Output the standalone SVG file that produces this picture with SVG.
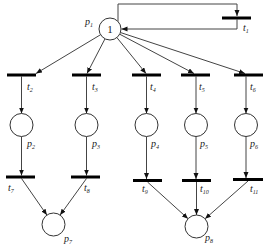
<svg xmlns="http://www.w3.org/2000/svg" width="271" height="245" viewBox="0 0 271 245">
<style>
.pl{fill:#fff;stroke:#333;stroke-width:1}
.tr{stroke:#000;stroke-width:3}
.ln{fill:none;stroke:#444;stroke-width:1}
.lb{font-family:"Liberation Serif",serif;font-style:italic;font-size:10px;fill:#222}
.sb{font-size:6px}
.tok{font-family:"Liberation Serif",serif;font-size:11px;fill:#222}
</style>
<defs>
<marker id="ar" markerUnits="userSpaceOnUse" markerWidth="7" markerHeight="6" refX="6" refY="2.5" orient="auto">
<path d="M0,0 L6,2.5 L0,5 z" fill="#111"/>
</marker>
</defs>
<rect width="271" height="245" fill="#fff"/>
<g id="connectors">
<path class="ln" d="M118,21.5 V4 H237 V16" marker-end="url(#ar)"/>
<path class="ln" d="M237,19.5 V29 H121.5" marker-end="url(#ar)"/>
<line class="ln" x1="100.6" y1="34.7" x2="36" y2="73.5" marker-end="url(#ar)"/>
<line class="ln" x1="105" y1="38.8" x2="87" y2="73.5" marker-end="url(#ar)"/>
<line class="ln" x1="116.9" y1="37.6" x2="146" y2="73.5" marker-end="url(#ar)"/>
<line class="ln" x1="119.7" y1="34.2" x2="194" y2="73.5" marker-end="url(#ar)"/>
<line class="ln" x1="120.4" y1="32.5" x2="245" y2="73.5" marker-end="url(#ar)"/>
<line class="ln" x1="21.5" y1="76.5" x2="21.5" y2="113.5" marker-end="url(#ar)"/>
<line class="ln" x1="86.5" y1="76.5" x2="86.5" y2="113.5" marker-end="url(#ar)"/>
<line class="ln" x1="146.5" y1="76.5" x2="146.5" y2="113.5" marker-end="url(#ar)"/>
<line class="ln" x1="196" y1="76.5" x2="196" y2="113.5" marker-end="url(#ar)"/>
<line class="ln" x1="246" y1="76.5" x2="246" y2="113.5" marker-end="url(#ar)"/>
<line class="ln" x1="21.5" y1="136.5" x2="21.5" y2="175.5" marker-end="url(#ar)"/>
<line class="ln" x1="86.5" y1="136.5" x2="86.5" y2="175.5" marker-end="url(#ar)"/>
<line class="ln" x1="146.5" y1="136.5" x2="146.5" y2="179" marker-end="url(#ar)"/>
<line class="ln" x1="196" y1="136.5" x2="196" y2="179" marker-end="url(#ar)"/>
<line class="ln" x1="246" y1="136.5" x2="246" y2="178" marker-end="url(#ar)"/>
<line class="ln" x1="21.5" y1="178.5" x2="46.9" y2="215.1" marker-end="url(#ar)"/>
<line class="ln" x1="86.5" y1="178.5" x2="60.1" y2="215.1" marker-end="url(#ar)"/>
<line class="ln" x1="147.5" y1="182" x2="188" y2="218.7" marker-end="url(#ar)"/>
<line class="ln" x1="196.5" y1="182" x2="196.5" y2="215" marker-end="url(#ar)"/>
<line class="ln" x1="248" y1="181" x2="205.1" y2="218.8" marker-end="url(#ar)"/>
</g>
<g id="p1"><circle class="pl" cx="110" cy="29" r="11"/><text class="tok" x="110" y="33" text-anchor="middle">1</text><text class="lb" x="85" y="25">p<tspan class="sb" dy="2">1</tspan></text></g>
<g id="t1"><line class="tr" x1="222" y1="18" x2="251" y2="18"/><text class="lb" x="243" y="31">t<tspan class="sb" dy="2">1</tspan></text></g>
<g id="t2"><line class="tr" x1="7" y1="75" x2="36" y2="75"/><text class="lb" x="27" y="90">t<tspan class="sb" dy="2">2</tspan></text></g>
<g id="t3"><line class="tr" x1="72" y1="75" x2="101" y2="75"/><text class="lb" x="92" y="90">t<tspan class="sb" dy="2">3</tspan></text></g>
<g id="t4"><line class="tr" x1="132" y1="75" x2="161" y2="75"/><text class="lb" x="150" y="90">t<tspan class="sb" dy="2">4</tspan></text></g>
<g id="t5"><line class="tr" x1="181" y1="75" x2="210" y2="75"/><text class="lb" x="199" y="90">t<tspan class="sb" dy="2">5</tspan></text></g>
<g id="t6"><line class="tr" x1="234" y1="75" x2="263" y2="75"/><text class="lb" x="250" y="90">t<tspan class="sb" dy="2">6</tspan></text></g>
<g id="p2"><circle class="pl" cx="21.5" cy="125" r="11.5"/><text class="lb" x="27" y="147">p<tspan class="sb" dy="2">2</tspan></text></g>
<g id="p3"><circle class="pl" cx="86.5" cy="125" r="11.5"/><text class="lb" x="92" y="147">p<tspan class="sb" dy="2">3</tspan></text></g>
<g id="p4"><circle class="pl" cx="146.5" cy="125" r="11.5"/><text class="lb" x="151" y="147">p<tspan class="sb" dy="2">4</tspan></text></g>
<g id="p5"><circle class="pl" cx="196" cy="125" r="11.5"/><text class="lb" x="200" y="147">p<tspan class="sb" dy="2">5</tspan></text></g>
<g id="p6"><circle class="pl" cx="246" cy="125" r="11.5"/><text class="lb" x="250" y="147">p<tspan class="sb" dy="2">6</tspan></text></g>
<g id="t7"><line class="tr" x1="6" y1="177" x2="35" y2="177"/><text class="lb" x="8" y="191">t<tspan class="sb" dy="2">7</tspan></text></g>
<g id="t8"><line class="tr" x1="71" y1="177" x2="100" y2="177"/><text class="lb" x="84" y="191">t<tspan class="sb" dy="2">8</tspan></text></g>
<g id="t9"><line class="tr" x1="133" y1="180.5" x2="162" y2="180.5"/><text class="lb" x="142" y="192">t<tspan class="sb" dy="2">9</tspan></text></g>
<g id="t10"><line class="tr" x1="182" y1="180.5" x2="211" y2="180.5"/><text class="lb" x="200" y="192">t<tspan class="sb" dy="2">10</tspan></text></g>
<g id="t11"><line class="tr" x1="233" y1="179.5" x2="263" y2="179.5"/><text class="lb" x="250" y="192">t<tspan class="sb" dy="2">11</tspan></text></g>
<g id="p7"><circle class="pl" cx="53.5" cy="224.5" r="11.5"/><text class="lb" x="64" y="242">p<tspan class="sb" dy="2">7</tspan></text></g>
<g id="p8"><circle class="pl" cx="196.5" cy="226.5" r="11.5"/><text class="lb" x="205" y="241">p<tspan class="sb" dy="2">8</tspan></text></g>
</svg>
